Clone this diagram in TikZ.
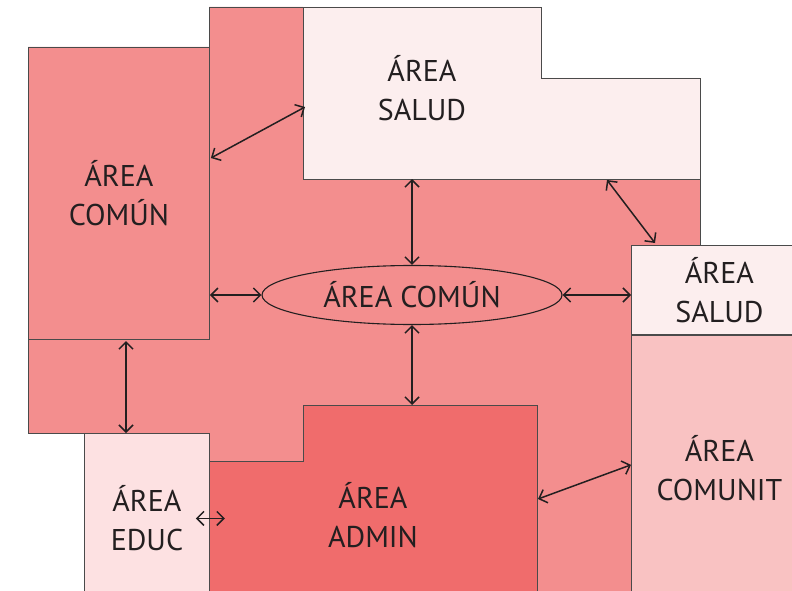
\documentclass[tikz,border=0pt]{standalone}
\usepackage{fontspec}
\setmainfont{PT Sans}
\usepackage{xcolor}
\usetikzlibrary{
	shapes.geometric,
	arrows.meta,
	positioning,
	calc
}
\definecolor{fondo}{HTML}{F38E8E}
\definecolor{salud}{HTML}{FCEEEE}
\definecolor{educ}{HTML}{FDE1E2}
\definecolor{admin}{HTML}{F06C6C}
\definecolor{comunit}{HTML}{F9C2C2}
\definecolor{borde}{HTML}{4A4A4A}
\definecolor{tinta}{HTML}{231F20}

\begin{document}
\begin{tikzpicture}[
			x=1pt, y=-1pt,
			zona/.style={draw=borde, line width=0.9pt},
			caja/.style={zona, anchor=north west, inner sep=0pt, align=center, text=tinta, font=\fontsize{30}{39}\selectfont},
			rotulo/.style={align=center, text=tinta, font=\fontsize{30}{39}\selectfont},
			flecha/.style={{Straight Barb[length=7pt,width=14pt]}-{Straight Barb[length=7pt,width=14pt]}, line width=1.5pt, draw=tinta}
		]
			\useasboundingbox (0,0) rectangle (792,591);
			% fondo comun
			\path[zona, fill=fondo] (209,7) -- (303,7) -- (303,179) -- (700,179) -- (700,245) -- (631,245) -- (631,600) -- (209,600) -- (209,433) -- (28,433) -- (28,47) -- (209,47) -- cycle;
			% area salud (arriba)
			\path[zona, fill=salud] (303,7) -- (541,7) -- (541,78) -- (700,78) -- (700,179) -- (303,179) -- cycle;
			\node[rotulo] (salud) at (422,88) {ÁREA\\SALUD};
			% area admin
			\path[zona, fill=admin] (209,461) -- (303,461) -- (303,405) -- (537,405) -- (537,600) -- (209,600) -- cycle;
			\node[rotulo] (admin) at (373,515) {ÁREA\\ADMIN};
			\coordinate (saludbase) at (303,179);
			\coordinate (saludoeste) at (305,107);
			\coordinate (saludpie) at (607,180);
			\coordinate (admintope) at (303,405);
			\coordinate (adminder) at (538,499);
			\coordinate (comunbajo) at (126,341);
			\node[caja, fill=fondo, minimum width=181pt, minimum height=292pt] (comun) at (28,47) {ÁREA\\COMÚN};
			\node[caja, fill=educ, minimum width=125pt, minimum height=170pt] (educ) at (84,433) {ÁREA\\EDUC};
			\node[caja, fill=salud, minimum width=176pt, minimum height=89pt] (saludchica) at (631,245) {ÁREA\\SALUD};
			\node[caja, fill=comunit, minimum width=176pt, minimum height=265pt, below=0pt of saludchica] (comunit) {ÁREA\\COMUNIT};
			\node[draw=tinta, line width=1.1pt, ellipse, minimum width=300pt, minimum height=59pt, inner sep=0pt, rotulo] (elipse) at (412,295) {ÁREA COMÚN};
			\draw[flecha] ($(comun.north east)+(1,111)$) -- (saludoeste);
			\draw[flecha] (elipse.north |- saludbase) -- (elipse.north);
			\draw[flecha] (saludpie) -- ($(saludchica.north west)+(24,-2)$);
			\draw[flecha] (comun.east |- elipse.west) -- (elipse.west);
			\draw[flecha] (elipse.east) -- (saludchica.west |- elipse.east);
			\draw[flecha] (elipse.south) -- (elipse.south |- admintope);
			\draw[flecha] (comunbajo) -- (comunbajo |- educ.north);
			\draw[flecha] ($(educ.east)+(-14,0)$) -- ($(educ.east)+(15,0)$);
			\draw[flecha] (adminder) -- ($(comunit.west)+(0,-3)$);
		\end{tikzpicture}
\end{document}
